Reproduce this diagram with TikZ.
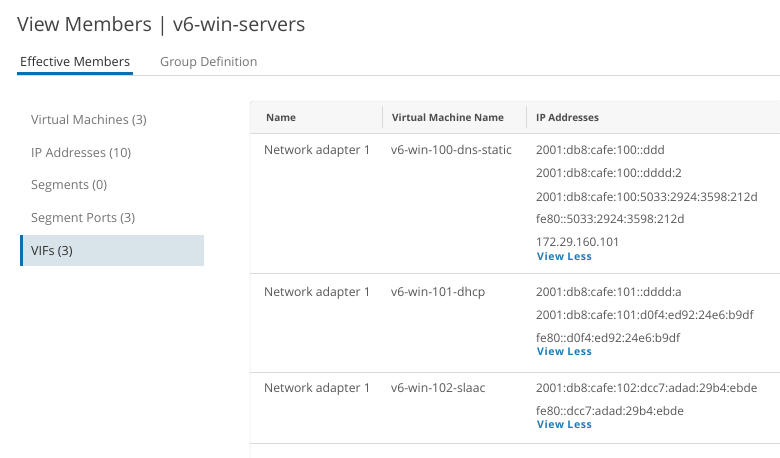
\documentclass[tikz,border=0pt]{standalone}
\usepackage{fontspec}
\setmainfont{Open Sans}
\usepackage{xcolor}
\usetikzlibrary{positioning}

\definecolor{inkdark}{HTML}{2E2E2E}
\definecolor{inkbody}{HTML}{575757}
\definecolor{inklight}{HTML}{737373}
\definecolor{linkblue}{HTML}{1B7DB8}
\definecolor{barblue}{HTML}{0F6FAE}
\definecolor{rulegray}{HTML}{DADADA}
\definecolor{headbg}{HTML}{F7F7F7}
\definecolor{selbg}{HTML}{D9E4EA}

\tikzset{
    txt/.style   = {anchor=base west, inner sep=0pt, text=inkbody,
                    font=\fontsize{12.2}{14}\selectfont},
    iptxt/.style = {txt, font=\fontsize{11.8}{14}\selectfont},
    navtxt/.style= {txt, text=inklight, font=\fontsize{12.6}{14}\selectfont},
    headtxt/.style={txt, text=inkdark!85, font=\fontsize{10}{12}\selectfont\bfseries},
    viewless/.style={txt, text=linkblue,
                    font=\fontsize{10.5}{12}\selectfont\bfseries\addfontfeature{LetterSpace=6}}
}

\begin{document}
\begin{tikzpicture}[x=1pt,y=-1pt]
        \useasboundingbox (0,0) rectangle (780,458);
        \fill[white] (0,0) rectangle (780,458);

        % title and tabs
        \node[txt, text=inkdark!90, font=\fontsize{19.6}{23}\selectfont] (title) at (17,31) {View Members | v6-win-servers};
        \node[txt, text=inkdark, font=\fontsize{12.7}{14}\selectfont] (tabEff) at (20,66) {Effective Members};
        \node[txt, text=inklight, font=\fontsize{12.5}{14}\selectfont] (tabGrp) at (160,66) {Group Definition};
        \draw[rulegray, line width=0.8pt] (17,75) -- (780,75);
        \draw[barblue, line width=3pt] (17,73.5) -- (133,73.5);

        % side menu
        \fill[selbg] (20,235) rectangle (204,266);
        \fill[barblue] (20,235) rectangle (23,266);
        \node[navtxt] (navVM)  at (31,124) {Virtual Machines (3)};
        \node[navtxt] (navIP)  at (31,157) {IP Addresses (10)};
        \node[navtxt] (navSeg) at (31,189) {Segments (0)};
        \node[navtxt] (navSP)  at (31,222) {Segment Ports (3)};
        \node[navtxt, text=inkdark] (navVIF) at (31,255) {VIFs (3)};

        % table frame
        \fill[headbg, rounded corners=3pt] (250,458) -- (250,101) -- (780,101) -- (780,133) -- (250,133);
        \fill[white] (250.5,133) rectangle (780,458);
        \draw[rulegray, rounded corners=3pt] (250,458) -- (250,101) -- (780,101);
        \draw[rulegray] (250,133) -- (780,133);
        \draw[rulegray] (382,106) -- (382,128);
        \draw[rulegray] (526,106) -- (526,128);
        \draw[rulegray] (250,273) -- (780,273);
        \draw[rulegray] (250,372) -- (780,372);
        \draw[rulegray] (250,443) -- (780,443);

        \node[headtxt] (hName) at (266,121) {Name};
        \node[headtxt] (hVM)   at (392,121) {Virtual Machine Name};
        \node[headtxt] (hIP)   at (536,121) {IP Addresses};

        % row 1
        \node[txt] (r1name) at (264,154) {Network adapter 1};
        \node[txt] (r1vm)   at (391,154) {v6-win-100-dns-static};
        \node[iptxt] (r1ipA)  at (536,154) {2001:db8:cafe:100::ddd};
        \node[iptxt] (r1ipB)  at (536,177) {2001:db8:cafe:100::dddd:2};
        \node[iptxt] (r1ipC)  at (536,201) {2001:db8:cafe:100:5033:2924:3598:212d};
        \node[iptxt] (r1ipD)  at (536,223) {fe80::5033:2924:3598:212d};
        \node[iptxt] (r1ipE)  at (536,246) {172.29.160.101};
        \node[viewless] (r1less) at (537,260) {View Less};

        % row 2
        \node[txt] (r2name) at (264,296) {Network adapter 1};
        \node[txt] (r2vm)   at (391,296) {v6-win-101-dhcp};
        \node[iptxt] (r2ipA)  at (536,296) {2001:db8:cafe:101::dddd:a};
        \node[iptxt] (r2ipB)  at (536,319) {2001:db8:cafe:101:d0f4:ed92:24e6:b9df};
        \node[iptxt] (r2ipC)  at (536,342) {fe80::d0f4:ed92:24e6:b9df};
        \node[viewless] (r2less) at (537,355) {View Less};

        % row 3
        \node[txt] (r3name) at (264,392) {Network adapter 1};
        \node[txt] (r3vm)   at (391,392) {v6-win-102-slaac};
        \node[iptxt] (r3ipA)  at (536,392) {2001:db8:cafe:102:dcc7:adad:29b4:ebde};
        \node[iptxt] (r3ipB)  at (536,415) {fe80::dcc7:adad:29b4:ebde};
        \node[viewless] (r3less) at (537,428) {View Less};
    \end{tikzpicture}
\end{document}
